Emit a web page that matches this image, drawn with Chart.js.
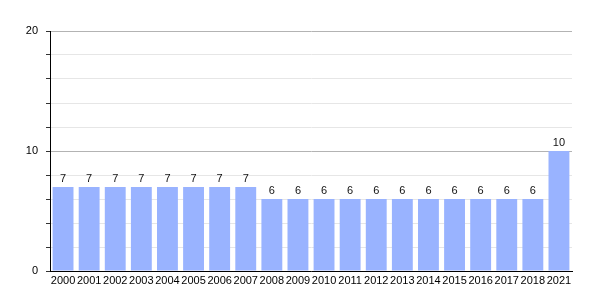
<!DOCTYPE html>
<html><head><meta charset="utf-8">
<script src="https://cdn.jsdelivr.net/npm/chart.js@4"></script>
<style>html,body{margin:0;padding:0;background:#fff}#w{width:600px;height:300px}</style>
</head><body><div id="w"><canvas id="c"></canvas></div>
<script>
const categories = ['2000','2001','2002','2003','2004','2005','2006','2007','2008','2009','2010','2011','2012','2013','2014','2015','2016','2017','2018','2021'];
const values = [7,7,7,7,7,7,7,7,6,6,6,6,6,6,6,6,6,6,6,10];
const yMajorTicks = [0,10,20];

const labelPlugin = {
  id: 'barLabels',
  afterDatasetsDraw(chart) {
    const ctx = chart.ctx;
    const meta = chart.getDatasetMeta(0);
    ctx.save();
    ctx.font = '11px "Liberation Sans", Arial, sans-serif';
    ctx.fillStyle = '#111';
    ctx.textAlign = 'center';
    ctx.textBaseline = 'bottom';
    meta.data.forEach((bar, i) => {
      ctx.fillText(String(values[i]), bar.x, bar.y - 3);
    });
    ctx.restore();
  }
};

new Chart(document.getElementById('c'), {
  type: 'bar',
  data: { labels: categories, datasets: [{ data: values, backgroundColor: '#99b3ff', barPercentage: 0.8, categoryPercentage: 1.0 }] },
  options: {
    responsive: true, maintainAspectRatio: false, animation: false,
    layout: { padding: { top: 31, right: 28, left: 0, bottom: 0 } },
    plugins: { legend: { display: false }, tooltip: { enabled: false } },
    scales: {
      x: {
        grid: { display: false, drawTicks: false },
        border: { display: true, color: '#000', width: 1 },
        ticks: { autoSkip: false, maxRotation: 0, minRotation: 0, padding: 3, color: '#000', font: { family: '"Liberation Sans", Arial, sans-serif', size: 11 } },
        afterFit(s) { s.height = 29; }
      },
      y: {
        min: 0, max: 20,
        ticks: { stepSize: 2, padding: 8, color: '#000', font: { family: '"Liberation Sans", Arial, sans-serif', size: 11 },
          callback: v => yMajorTicks.includes(v) ? String(v) : '' },
        grid: {
          color: c => (c.tick && c.tick.value % 10 === 0) ? '#b3b3b3' : '#e6e6e6',
          tickColor: '#333', tickLength: 4, drawTicks: true
        },
        border: { display: true, color: '#000', width: 1 },
        afterFit(s) { s.width = 50; }
      }
    }
  },
  plugins: [labelPlugin]
});
</script></body></html>
